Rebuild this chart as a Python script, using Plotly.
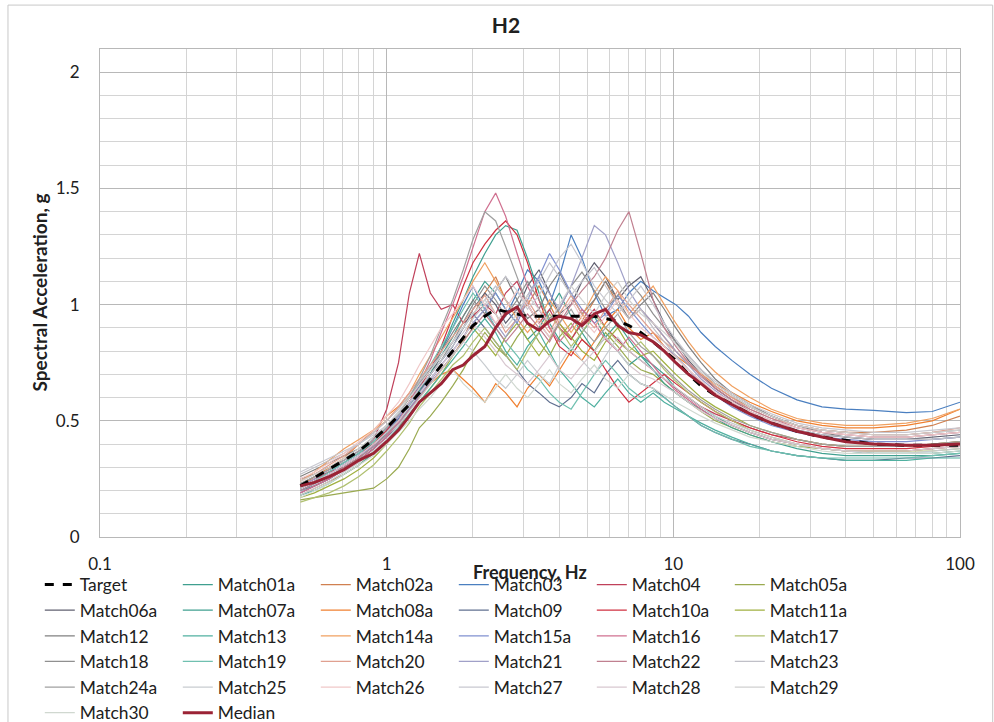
import plotly.graph_objects as go

# Frequency grid (Hz)
freq = [0.5, 0.56, 0.63, 0.71, 0.8, 0.9, 1.0, 1.1, 1.2, 1.3,
        1.42, 1.55, 1.7, 1.85, 2.0, 2.2, 2.4, 2.6, 2.85, 3.1,
        3.4, 3.7, 4.0, 4.4, 4.8, 5.3, 5.8, 6.4, 7.0, 7.7,
        8.5, 9.3, 10.2, 11.3, 12.5, 14, 16, 18.5, 22, 27,
        33, 40, 50, 65, 80, 100]

target = [0.22, 0.255, 0.29, 0.33, 0.37, 0.42, 0.47, 0.52, 0.57, 0.62,
          0.68, 0.74, 0.80, 0.86, 0.91, 0.95, 0.98, 0.97, 0.96, 0.95,
          0.95, 0.95, 0.95, 0.95, 0.95, 0.95, 0.94, 0.93, 0.91, 0.88,
          0.84, 0.80, 0.76, 0.70, 0.65, 0.61, 0.57, 0.53, 0.49, 0.455,
          0.43, 0.415, 0.40, 0.395, 0.395, 0.395]

median = [0.22, 0.235, 0.26, 0.29, 0.33, 0.36, 0.41, 0.46, 0.52, 0.58,
          0.62, 0.66, 0.72, 0.74, 0.78, 0.82, 0.90, 0.96, 0.99, 0.92,
          0.89, 0.93, 0.95, 0.94, 0.91, 0.96, 0.98, 0.91, 0.88, 0.87,
          0.84, 0.80, 0.75, 0.70, 0.66, 0.61, 0.57, 0.53, 0.49, 0.455,
          0.43, 0.41, 0.40, 0.395, 0.395, 0.40]

match_names = ["Match01a", "Match02a", "Match03", "Match04", "Match05a",
               "Match06a", "Match07a", "Match08a", "Match09", "Match10a",
               "Match11a", "Match12", "Match13", "Match14a", "Match15a",
               "Match16", "Match17", "Match18", "Match19", "Match20",
               "Match21", "Match22", "Match23", "Match24a", "Match25",
               "Match26", "Match27", "Match28", "Match29", "Match30"]

match_colors = ["#3f9f8f", "#d08050", "#4a7fc0", "#c0405a", "#9aaa50",
                "#606070", "#40a090", "#f08030", "#607090", "#d03040",
                "#a0b040", "#808080", "#50b0a0", "#f0a060", "#8090d0",
                "#d07090", "#b0c070", "#909090", "#70c0b0", "#e0a090",
                "#a0a0c8", "#c08090", "#c0c0c8", "#a0a0a0", "#c8ccd0",
                "#f0c8c8", "#c8c8d0", "#d8c8d0", "#d0d0d0", "#d0d8d0"]

match01a = [0.20, 0.22, 0.25, 0.29, 0.33, 0.38, 0.45, 0.50, 0.56, 0.63, 0.70, 0.78, 0.86, 0.95, 1.02, 1.10, 1.05, 0.98, 0.92, 0.85, 0.90, 0.98, 1.05, 0.95, 0.88, 0.80, 0.86, 0.92, 0.85, 0.78, 0.74, 0.70, 0.64, 0.60, 0.56, 0.52, 0.48, 0.45, 0.42, 0.40, 0.38, 0.37, 0.36, 0.36, 0.36, 0.37]
match02a = [0.18, 0.21, 0.24, 0.27, 0.31, 0.36, 0.40, 0.47, 0.55, 0.60, 0.66, 0.72, 0.78, 0.85, 0.95, 1.05, 1.12, 1.02, 0.96, 1.00, 1.08, 1.00, 0.92, 0.85, 0.93, 1.02, 1.10, 1.00, 0.94, 0.98, 0.92, 0.86, 0.80, 0.74, 0.70, 0.65, 0.60, 0.56, 0.52, 0.48, 0.46, 0.45, 0.45, 0.46, 0.48, 0.52]
match03 = [0.21, 0.24, 0.28, 0.32, 0.36, 0.40, 0.46, 0.51, 0.58, 0.65, 0.72, 0.80, 0.90, 1.00, 1.08, 0.98, 0.90, 0.95, 1.05, 1.15, 1.10, 1.00, 1.12, 1.30, 1.20, 1.05, 0.95, 0.98, 1.05, 1.10, 1.06, 1.03, 1.00, 0.95, 0.88, 0.82, 0.76, 0.70, 0.64, 0.59, 0.56, 0.55, 0.545, 0.535, 0.54, 0.58]
match04 = [0.22, 0.25, 0.28, 0.30, 0.34, 0.42, 0.55, 0.75, 1.05, 1.22, 1.05, 0.98, 1.00, 0.92, 0.95, 1.00, 0.96, 1.05, 1.10, 1.00, 0.92, 0.98, 0.90, 0.85, 0.92, 0.98, 0.90, 0.85, 0.80, 0.76, 0.72, 0.68, 0.64, 0.60, 0.56, 0.53, 0.50, 0.47, 0.44, 0.42, 0.40, 0.39, 0.39, 0.39, 0.40, 0.41]
match05a = [0.16, 0.17, 0.18, 0.19, 0.20, 0.21, 0.25, 0.30, 0.38, 0.47, 0.52, 0.58, 0.65, 0.72, 0.80, 0.88, 0.82, 0.78, 0.86, 0.92, 0.84, 0.78, 0.86, 0.92, 0.85, 0.80, 0.88, 0.82, 0.76, 0.72, 0.70, 0.66, 0.62, 0.58, 0.54, 0.50, 0.47, 0.44, 0.41, 0.39, 0.38, 0.37, 0.37, 0.37, 0.38, 0.39]
match06a = [0.25, 0.27, 0.30, 0.33, 0.37, 0.40, 0.45, 0.50, 0.55, 0.62, 0.70, 0.78, 0.84, 0.90, 0.98, 1.05, 1.00, 0.92, 0.98, 1.08, 1.15, 1.05, 0.96, 1.00, 1.10, 1.18, 1.12, 1.02, 1.08, 1.12, 1.02, 0.92, 0.84, 0.76, 0.70, 0.64, 0.59, 0.54, 0.50, 0.46, 0.44, 0.43, 0.42, 0.42, 0.43, 0.44]
match07a = [0.20, 0.23, 0.26, 0.30, 0.34, 0.39, 0.44, 0.50, 0.56, 0.62, 0.70, 0.80, 0.92, 1.02, 1.12, 1.22, 1.30, 1.34, 1.32, 1.20, 1.05, 0.92, 0.85, 0.80, 0.88, 0.95, 0.86, 0.80, 0.74, 0.78, 0.72, 0.66, 0.62, 0.58, 0.55, 0.51, 0.47, 0.44, 0.41, 0.38, 0.36, 0.35, 0.35, 0.35, 0.35, 0.36]
match08a = [0.22, 0.26, 0.30, 0.34, 0.40, 0.46, 0.52, 0.56, 0.60, 0.62, 0.66, 0.70, 0.72, 0.68, 0.64, 0.58, 0.66, 0.62, 0.56, 0.64, 0.70, 0.65, 0.72, 0.80, 0.76, 0.84, 0.92, 0.98, 0.90, 0.85, 0.88, 0.82, 0.78, 0.74, 0.70, 0.66, 0.62, 0.58, 0.54, 0.50, 0.48, 0.47, 0.47, 0.48, 0.50, 0.55]
match09 = [0.19, 0.22, 0.25, 0.29, 0.33, 0.38, 0.43, 0.48, 0.55, 0.62, 0.70, 0.76, 0.82, 0.90, 0.96, 0.90, 0.84, 0.78, 0.72, 0.66, 0.62, 0.58, 0.56, 0.60, 0.66, 0.62, 0.70, 0.76, 0.70, 0.66, 0.64, 0.60, 0.56, 0.52, 0.48, 0.45, 0.42, 0.40, 0.37, 0.35, 0.34, 0.33, 0.33, 0.34, 0.34, 0.35]
match10a = [0.21, 0.24, 0.27, 0.31, 0.35, 0.40, 0.46, 0.52, 0.58, 0.64, 0.72, 0.82, 0.95, 1.08, 1.18, 1.26, 1.32, 1.36, 1.30, 1.18, 1.02, 0.90, 0.82, 0.78, 0.85, 0.80, 0.72, 0.64, 0.58, 0.62, 0.66, 0.70, 0.66, 0.62, 0.58, 0.54, 0.50, 0.47, 0.44, 0.41, 0.39, 0.38, 0.38, 0.38, 0.39, 0.40]
match11a = [0.17, 0.19, 0.22, 0.25, 0.29, 0.34, 0.40, 0.46, 0.52, 0.58, 0.64, 0.70, 0.78, 0.84, 0.90, 0.84, 0.78, 0.86, 0.92, 0.85, 0.78, 0.85, 0.92, 0.86, 0.80, 0.76, 0.84, 0.90, 0.82, 0.78, 0.80, 0.75, 0.70, 0.65, 0.60, 0.56, 0.52, 0.48, 0.45, 0.42, 0.40, 0.39, 0.39, 0.39, 0.40, 0.41]
match12 = [0.26, 0.29, 0.32, 0.35, 0.38, 0.43, 0.48, 0.53, 0.60, 0.66, 0.72, 0.80, 0.88, 0.95, 1.02, 0.96, 1.06, 1.12, 1.02, 0.94, 0.98, 1.08, 1.14, 1.04, 0.96, 1.02, 1.10, 1.02, 0.94, 1.00, 1.05, 0.98, 0.90, 0.82, 0.75, 0.68, 0.62, 0.57, 0.52, 0.48, 0.45, 0.43, 0.42, 0.42, 0.42, 0.43]
match13 = [0.18, 0.20, 0.23, 0.27, 0.31, 0.36, 0.42, 0.47, 0.53, 0.58, 0.64, 0.70, 0.76, 0.82, 0.88, 0.94, 0.88, 0.80, 0.74, 0.82, 0.88, 0.80, 0.72, 0.66, 0.60, 0.56, 0.62, 0.68, 0.62, 0.58, 0.62, 0.58, 0.55, 0.52, 0.49, 0.46, 0.43, 0.40, 0.37, 0.35, 0.34, 0.33, 0.33, 0.33, 0.34, 0.34]
match14a = [0.24, 0.28, 0.33, 0.38, 0.42, 0.46, 0.50, 0.56, 0.62, 0.70, 0.78, 0.86, 0.94, 1.02, 1.10, 1.18, 1.10, 1.02, 0.94, 0.88, 0.94, 1.02, 0.96, 0.88, 0.95, 1.05, 1.12, 1.06, 0.96, 1.02, 1.08, 1.00, 0.92, 0.84, 0.77, 0.71, 0.65, 0.60, 0.55, 0.51, 0.49, 0.48, 0.48, 0.49, 0.51, 0.55]
match15a = [0.20, 0.23, 0.27, 0.31, 0.35, 0.39, 0.44, 0.49, 0.55, 0.61, 0.67, 0.74, 0.80, 0.86, 0.92, 0.98, 1.05, 0.98, 0.92, 1.02, 1.12, 1.22, 1.15, 1.05, 0.98, 0.92, 0.96, 1.04, 0.98, 0.92, 0.86, 0.82, 0.78, 0.72, 0.66, 0.61, 0.56, 0.52, 0.48, 0.45, 0.43, 0.42, 0.41, 0.41, 0.42, 0.43]
match16 = [0.19, 0.22, 0.25, 0.29, 0.33, 0.38, 0.43, 0.50, 0.58, 0.66, 0.76, 0.88, 1.00, 1.12, 1.25, 1.40, 1.48, 1.38, 1.22, 1.08, 0.98, 0.90, 0.84, 0.90, 0.98, 0.92, 0.85, 0.80, 0.86, 0.80, 0.74, 0.68, 0.63, 0.59, 0.55, 0.51, 0.48, 0.45, 0.42, 0.40, 0.38, 0.37, 0.37, 0.37, 0.38, 0.39]
match17 = [0.15, 0.17, 0.19, 0.22, 0.26, 0.31, 0.37, 0.43, 0.49, 0.56, 0.62, 0.68, 0.74, 0.78, 0.84, 0.90, 0.84, 0.78, 0.72, 0.80, 0.88, 0.96, 0.90, 0.82, 0.88, 0.96, 0.90, 0.84, 0.80, 0.84, 0.78, 0.72, 0.67, 0.62, 0.58, 0.54, 0.50, 0.46, 0.43, 0.40, 0.38, 0.37, 0.37, 0.37, 0.37, 0.38]
match18 = [0.23, 0.26, 0.29, 0.32, 0.36, 0.41, 0.47, 0.52, 0.58, 0.64, 0.70, 0.76, 0.84, 0.92, 1.00, 1.08, 1.02, 0.95, 1.02, 1.10, 1.02, 0.94, 0.98, 1.08, 1.14, 1.06, 0.98, 1.04, 1.10, 1.04, 0.96, 0.90, 0.84, 0.78, 0.72, 0.66, 0.61, 0.56, 0.52, 0.48, 0.46, 0.45, 0.44, 0.44, 0.45, 0.46]
match19 = [0.21, 0.24, 0.28, 0.32, 0.36, 0.41, 0.47, 0.53, 0.60, 0.67, 0.74, 0.82, 0.90, 0.98, 1.05, 0.98, 0.90, 0.84, 0.78, 0.72, 0.68, 0.62, 0.58, 0.55, 0.62, 0.70, 0.76, 0.70, 0.64, 0.60, 0.63, 0.60, 0.56, 0.52, 0.48, 0.45, 0.42, 0.39, 0.37, 0.35, 0.34, 0.34, 0.34, 0.34, 0.35, 0.36]
match20 = [0.24, 0.27, 0.31, 0.35, 0.40, 0.45, 0.50, 0.56, 0.62, 0.68, 0.74, 0.80, 0.86, 0.92, 0.98, 1.04, 0.96, 0.88, 0.94, 1.02, 0.94, 0.88, 0.96, 1.04, 0.96, 0.90, 0.98, 1.06, 1.00, 0.94, 0.88, 0.84, 0.80, 0.75, 0.70, 0.65, 0.60, 0.55, 0.51, 0.48, 0.46, 0.45, 0.44, 0.44, 0.45, 0.47]
match21 = [0.22, 0.25, 0.29, 0.33, 0.37, 0.42, 0.47, 0.52, 0.57, 0.62, 0.68, 0.74, 0.80, 0.86, 0.92, 0.98, 0.92, 0.86, 0.94, 1.04, 1.12, 1.05, 0.98, 1.08, 1.20, 1.34, 1.30, 1.18, 1.06, 0.98, 0.92, 0.86, 0.80, 0.74, 0.68, 0.63, 0.58, 0.54, 0.50, 0.47, 0.45, 0.44, 0.43, 0.43, 0.44, 0.45]
match22 = [0.20, 0.23, 0.26, 0.30, 0.34, 0.39, 0.44, 0.49, 0.55, 0.60, 0.66, 0.72, 0.78, 0.84, 0.90, 0.96, 0.90, 0.84, 0.90, 0.96, 0.90, 0.84, 0.92, 1.00, 1.06, 1.12, 1.20, 1.32, 1.40, 1.22, 1.02, 0.90, 0.82, 0.75, 0.69, 0.64, 0.59, 0.55, 0.51, 0.47, 0.45, 0.44, 0.43, 0.43, 0.44, 0.45]
match23 = [0.27, 0.30, 0.33, 0.36, 0.40, 0.45, 0.50, 0.55, 0.61, 0.67, 0.73, 0.78, 0.84, 0.90, 0.96, 1.02, 1.08, 1.02, 0.96, 1.04, 1.10, 1.18, 1.12, 1.04, 1.10, 1.16, 1.08, 1.00, 0.94, 0.98, 0.90, 0.84, 0.78, 0.72, 0.67, 0.62, 0.58, 0.54, 0.50, 0.46, 0.44, 0.43, 0.42, 0.42, 0.42, 0.43]
match24a = [0.23, 0.26, 0.29, 0.33, 0.37, 0.42, 0.47, 0.53, 0.60, 0.68, 0.78, 0.90, 1.02, 1.15, 1.28, 1.40, 1.36, 1.25, 1.12, 1.00, 0.92, 0.86, 0.92, 0.98, 0.90, 0.84, 0.90, 0.96, 0.88, 0.82, 0.78, 0.73, 0.68, 0.63, 0.59, 0.55, 0.51, 0.48, 0.45, 0.42, 0.40, 0.39, 0.39, 0.39, 0.40, 0.41]
match25 = [0.18, 0.21, 0.24, 0.28, 0.32, 0.37, 0.42, 0.48, 0.54, 0.60, 0.66, 0.72, 0.78, 0.84, 0.80, 0.74, 0.68, 0.64, 0.70, 0.76, 0.70, 0.66, 0.74, 0.82, 0.76, 0.70, 0.78, 0.86, 0.80, 0.76, 0.72, 0.68, 0.64, 0.60, 0.56, 0.52, 0.49, 0.46, 0.43, 0.40, 0.38, 0.37, 0.36, 0.36, 0.37, 0.38]
match26 = [0.25, 0.28, 0.32, 0.36, 0.41, 0.46, 0.52, 0.58, 0.66, 0.74, 0.82, 0.90, 0.96, 1.02, 1.08, 1.00, 0.92, 0.98, 1.06, 1.00, 0.92, 0.86, 0.94, 1.02, 0.94, 0.88, 0.95, 1.02, 0.96, 0.90, 0.86, 0.82, 0.77, 0.72, 0.67, 0.62, 0.58, 0.54, 0.50, 0.47, 0.45, 0.44, 0.43, 0.43, 0.44, 0.45]
match27 = [0.28, 0.31, 0.34, 0.37, 0.40, 0.44, 0.48, 0.53, 0.58, 0.64, 0.70, 0.76, 0.82, 0.88, 0.94, 1.00, 1.06, 1.12, 1.06, 0.98, 1.04, 1.12, 1.20, 1.26, 1.18, 1.08, 1.02, 0.96, 1.02, 1.08, 1.00, 0.92, 0.85, 0.78, 0.72, 0.67, 0.62, 0.57, 0.53, 0.49, 0.47, 0.46, 0.45, 0.45, 0.46, 0.47]
match28 = [0.21, 0.24, 0.27, 0.31, 0.35, 0.40, 0.45, 0.50, 0.56, 0.62, 0.68, 0.74, 0.80, 0.86, 0.92, 0.86, 0.80, 0.74, 0.70, 0.66, 0.72, 0.78, 0.72, 0.68, 0.74, 0.80, 0.86, 0.80, 0.74, 0.70, 0.68, 0.65, 0.62, 0.58, 0.54, 0.51, 0.48, 0.45, 0.42, 0.40, 0.38, 0.37, 0.37, 0.37, 0.38, 0.39]
match29 = [0.24, 0.27, 0.30, 0.34, 0.38, 0.43, 0.48, 0.54, 0.60, 0.66, 0.72, 0.78, 0.84, 0.90, 0.96, 1.02, 0.96, 0.90, 0.96, 1.04, 0.98, 0.92, 1.00, 1.08, 1.02, 0.96, 1.04, 1.10, 1.02, 0.96, 0.92, 0.88, 0.83, 0.77, 0.71, 0.66, 0.61, 0.56, 0.52, 0.48, 0.46, 0.45, 0.44, 0.44, 0.45, 0.46]
match30 = [0.17, 0.20, 0.23, 0.27, 0.31, 0.35, 0.40, 0.45, 0.50, 0.55, 0.60, 0.66, 0.72, 0.66, 0.62, 0.58, 0.64, 0.70, 0.64, 0.60, 0.66, 0.72, 0.66, 0.62, 0.68, 0.74, 0.68, 0.64, 0.70, 0.66, 0.64, 0.61, 0.58, 0.55, 0.52, 0.49, 0.46, 0.43, 0.41, 0.39, 0.37, 0.36, 0.36, 0.36, 0.36, 0.37]

match_values = [match01a, match02a, match03, match04, match05a, match06a, match07a,
                match08a, match09, match10a, match11a, match12, match13, match14a,
                match15a, match16, match17, match18, match19, match20, match21,
                match22, match23, match24a, match25, match26, match27, match28,
                match29, match30]

x_ticks = [0.1, 1, 10, 100]
x_ticktext = ["0.1", "1", "10", "100"]
x_minor = [m * d for d in [0.1, 1, 10] for m in range(2, 10)]
y_ticks = [0, 0.5, 1, 1.5, 2]
y_ticktext = ["0", "0.5", "1", "1.5", "2"]

FONT = "Lato"
TXT = "#202020"

fig = go.Figure()
for i, (name, vals, col) in enumerate(zip(match_names, match_values, match_colors)):
    fig.add_trace(go.Scatter(x=freq, y=vals, name=name, mode="lines",
                             line=dict(color=col, width=1.2), legendrank=10 + i))

fig.add_trace(go.Scatter(x=freq, y=target, name="Target", mode="lines",
                         line=dict(color="black", width=3, dash="dash"), legendrank=1))
fig.add_trace(go.Scatter(x=freq, y=median, name="Median", mode="lines",
                         line=dict(color="#9b2335", width=3), legendrank=100))

fig.update_layout(
    width=994, height=722,
    paper_bgcolor="white", plot_bgcolor="white",
    margin=dict(l=100, r=34, t=49, b=185, autoexpand=False),
    font=dict(family=FONT, color=TXT),
    title=dict(text="<b>H2</b>", x=0.509, xanchor="center", y=0.964, yanchor="middle",
               font=dict(size=21, color=TXT, family=FONT)),
    showlegend=True,
    legend=dict(orientation="h", x=-0.07, xanchor="left", y=-0.061, yanchor="top",
                entrywidth=93, entrywidthmode="pixels", traceorder="normal",
                font=dict(size=17.4, color=TXT, family=FONT),
                bgcolor="rgba(0,0,0,0)"),
    shapes=[dict(type="rect", xref="paper", yref="paper", x0=-0.107, x1=1.038,
                 y0=-0.40, y1=1.09, line=dict(color="#c8c8c8", width=1),
                 fillcolor="rgba(0,0,0,0)", layer="below")],
    annotations=[
        dict(text="<b>Frequency, Hz</b>", xref="paper", yref="paper", x=0.5, y=-0.0717,
             xanchor="center", yanchor="middle", showarrow=False,
             font=dict(size=18, color=TXT, family=FONT)),
        dict(text="<b>Spectral Acceleration, g</b>", xref="paper", yref="paper",
             x=-0.0715, y=0.5, xanchor="center", yanchor="middle", textangle=-90,
             showarrow=False, font=dict(size=19, color=TXT, family=FONT)),
    ],
)

fig.update_xaxes(
    type="log", range=[-1, 2],
    tickmode="array", tickvals=x_ticks, ticktext=x_ticktext,
    showgrid=True, gridcolor="#b8b8b8", gridwidth=1,
    minor=dict(tickmode="array", tickvals=x_minor, showgrid=True,
               gridcolor="#d4d4d4", gridwidth=1, ticks=""),
    ticks="outside", ticklen=12, tickcolor="rgba(0,0,0,0)",
    tickfont=dict(size=17, color=TXT, family=FONT),
    showline=True, linecolor="#b8b8b8", linewidth=1, mirror=True,
    zeroline=False,
)

fig.update_yaxes(
    range=[0, 2.1], tickmode="array", tickvals=y_ticks, ticktext=y_ticktext,
    showgrid=True, gridcolor="#b8b8b8", gridwidth=1,
    minor=dict(dtick=0.1, showgrid=True, gridcolor="#d4d4d4", gridwidth=1, ticks=""),
    ticks="outside", ticklen=16, tickcolor="rgba(0,0,0,0)",
    tickfont=dict(size=17, color=TXT, family=FONT),
    showline=True, linecolor="#b8b8b8", linewidth=1, mirror=True,
    zeroline=False,
)

fig.write_html("out.html")
